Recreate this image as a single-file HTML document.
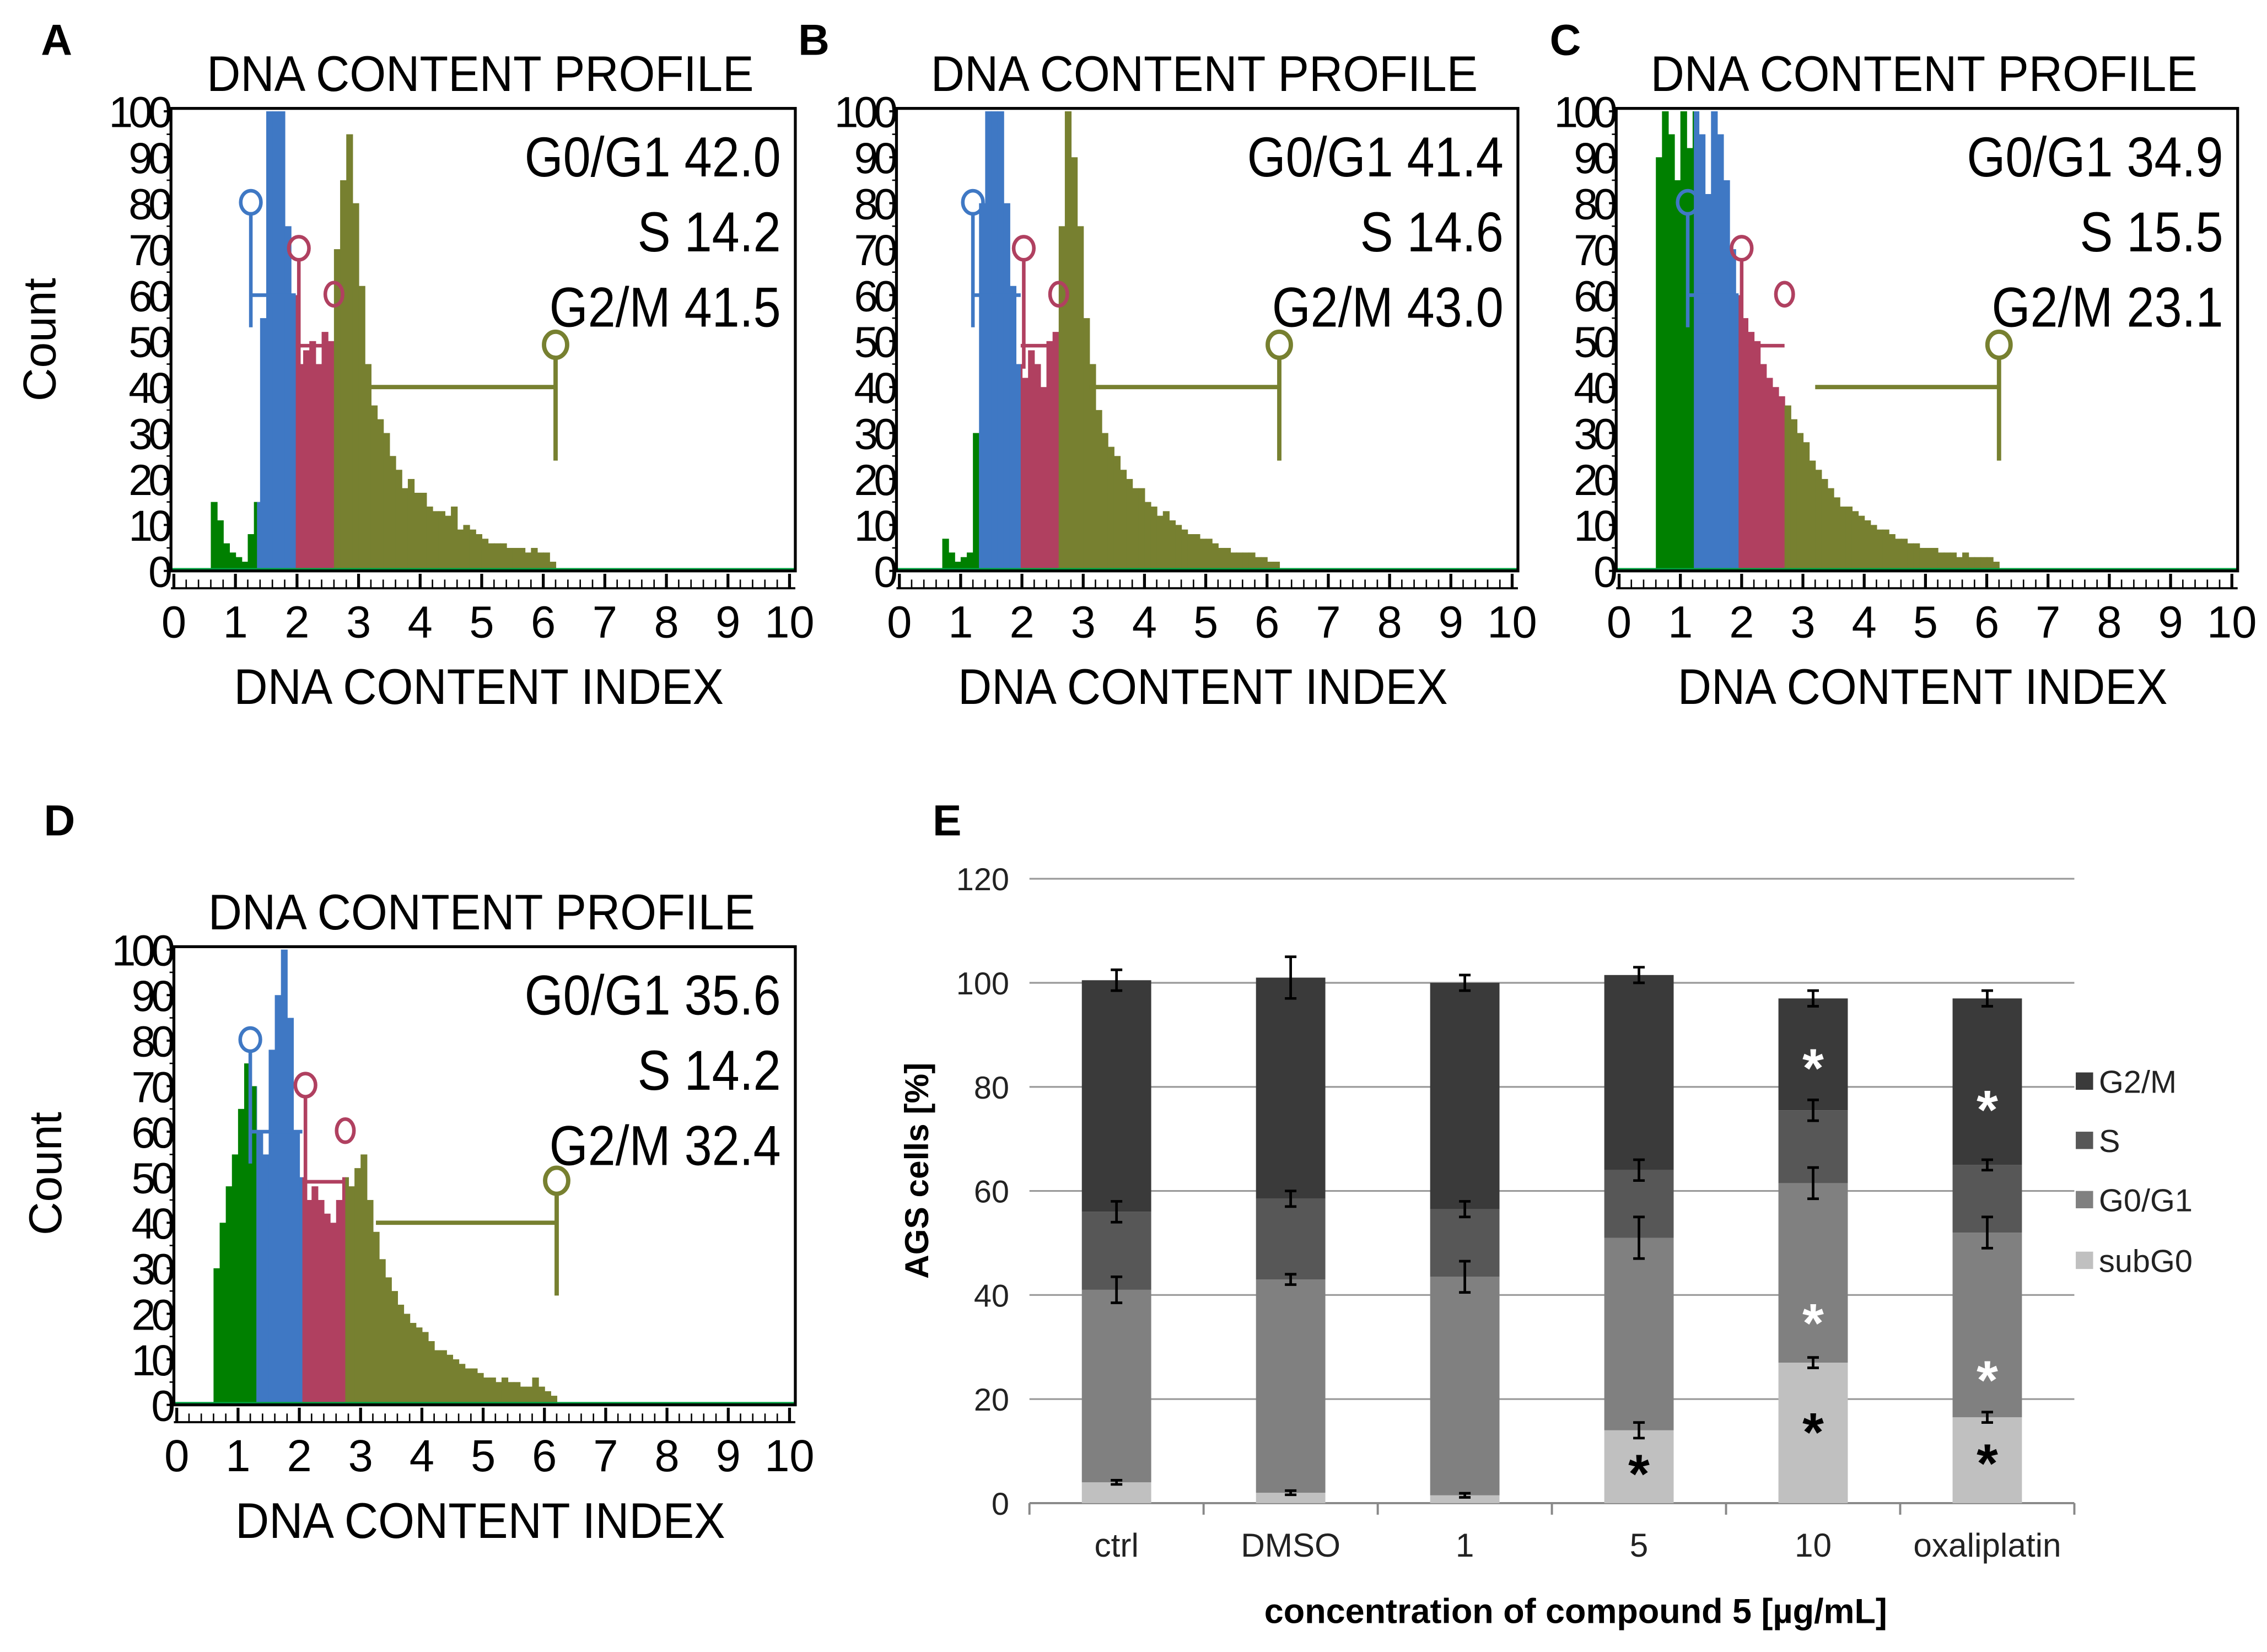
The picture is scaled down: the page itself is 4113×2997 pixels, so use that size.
<!DOCTYPE html>
<html><head><meta charset="utf-8"><style>
html,body{margin:0;padding:0;background:#fff;}
svg{display:block;font-family:"Liberation Sans",sans-serif;}
</style></head><body>
<svg id="root" width="4113" height="2997" viewBox="0 0 1568 1143" xmlns="http://www.w3.org/2000/svg"></svg>
<script>
// ---- histogram data (counts per 0.1 DNA index bin starting at 0.5) ----
const histA = [0,15,11,6,4,3,2,8,15,55,100,100,100,75,60,45,48,50,45,52,50,70,85,95,80,62,45,36,33,30,25,22,18,20,17,17,14,13,13,12,14,9,10,9,8,7,6,6,6,5,5,5,4,5,4,4,2,0];
const histB = [0,0,7,4,2,3,4,30,80,100,100,100,80,62,45,42,48,45,40,50,52,75,100,90,75,55,45,35,30,27,25,22,20,18,18,15,14,12,13,11,10,9,8,8,7,7,6,5,5,4,4,4,4,3,3,2,2,0];
const histC = [0,90,100,95,85,100,92,100,95,82,100,95,85,70,60,55,52,50,45,42,40,38,36,33,30,28,24,22,20,18,16,14,14,13,12,11,10,9,9,8,7,7,6,6,5,5,5,4,4,4,3,4,3,3,3,3,2,0];
const histD = [0,30,40,48,55,65,75,70,60,55,78,90,100,85,60,50,45,48,45,42,40,45,50,48,52,55,45,38,32,28,25,22,20,18,17,16,14,12,12,11,10,9,8,8,7,6,6,5,6,5,5,4,4,6,4,3,2,0];
// gates: [blueStart, redStart, oliveStart]
const gatesA = [1.35,1.98,2.6];
const gatesB = [1.3,1.98,2.6];
const gatesC = [1.22,1.95,2.7];
const gatesD = [1.3,2.05,2.75];
const statsA = ["G0/G1 42.0","S 14.2","G2/M 41.5"];
const statsB = ["G0/G1 41.4","S 14.6","G2/M 43.0"];
const statsC = ["G0/G1 34.9","S 15.5","G2/M 23.1"];
const statsD = ["G0/G1 35.6","S 14.2","G2/M 32.4"];
// ---- bar chart data ----
const categories = ["ctrl","DMSO","1","5","10","oxaliplatin"];
const subG0 = [4,2,1.5,14,27,16.5];
const g0g1Top = [41,43,43.5,51,61.5,52];
const sTop = [56,58.5,56.5,64,75.5,65];
const g2mTop = [100.5,101,100,101.5,97,97];
const errSub = [0,0,0,1.5,1,1];
const errG1 = [2.5,1,3,4,3,3];
const errS = [2,1.5,1.5,2,2,1];
const errG2 = [2,4,1.5,1.5,1.5,1.5];
const yTicks = [0,20,40,60,80,100,120];

const NS="http://www.w3.org/2000/svg";
const root=document.getElementById('root');
function el(tag,attrs,parent){const e=document.createElementNS(NS,tag);for(const k in attrs)e.setAttribute(k,attrs[k]);(parent||root).appendChild(e);return e;}
function txt(s,attrs,parent){const e=el('text',attrs,parent);e.textContent=s;return e;}

const COLORS={g:'#008000',b:'#3f78c4',r:'#b04060',o:'#778030'};
function histPanel(name,letter,L,T,R,B,hist,gates,stats,lx,ly){
  const g=el('g',{});
  
  
  const x0=L+2, x10=R-4;
  const sx=v=>x0+(x10-x0)*v/10;
  const sy=v=>B-(B-T-2)*Math.min(v,100)/100;
  const lt=txt(letter,{x:lx,y:ly,'font-size':30,'font-weight':'bold'},g);
  
  
  const tt=txt('DNA CONTENT PROFILE',{x:0,y:0,'font-size':33,'text-anchor':'middle',transform:`translate(${(L+R)/2-2},${T-12}) scale(0.98,1.05)`},g);
  
  
  for(let i=0;i<hist.length;i++){
    const xs=0.5+i*0.1;
    let pts=[xs];gates.forEach(gv=>{if(gv>xs&&gv<xs+0.1)pts.push(gv);});pts.push(xs+0.1);
    for(let j=0;j<pts.length-1;j++){
      const a=pts[j],b=pts[j+1],mid=(a+b)/2;
      const c=mid<gates[0]?COLORS.g:mid<gates[1]?COLORS.b:mid<gates[2]?COLORS.r:COLORS.o;
      const r=el('rect',{x:sx(a),y:sy(hist[i]),width:sx(b)-sx(a)+0.4,height:B-sy(hist[i]),fill:c},g);
      
      
    }
  }
  el('line',{x1:L,y1:B-1,x2:R,y2:B-1,stroke:'#00a040','stroke-width':2},g);
  const gm=el('g',{fill:'none','stroke-width':2.5},g);
  
  
  const bx=gates[0]-0.1, by=sy(78);
  el('ellipse',{cx:sx(bx),cy:by-7,rx:7,ry:8,stroke:COLORS.b},gm);
  el('line',{x1:sx(bx),y1:by+1,x2:sx(bx),y2:sy(53),stroke:COLORS.b},gm);
  el('line',{x1:sx(bx),y1:sy(60),x2:sx(gates[1]),y2:sy(60),stroke:COLORS.b},gm);
  el('ellipse',{cx:sx(gates[1]+0.05),cy:sy(68)-7,rx:7,ry:8,stroke:COLORS.r},gm);
  el('line',{x1:sx(gates[1]+0.05),y1:sy(68)+1,x2:sx(gates[1]+0.05),y2:sy(44),stroke:COLORS.r},gm);
  el('line',{x1:sx(gates[1]),y1:sy(49),x2:sx(gates[2]),y2:sy(49),stroke:COLORS.r},gm);
  el('ellipse',{cx:sx(gates[2]),cy:sy(58)-7,rx:6,ry:8,stroke:COLORS.r},gm);
  el('ellipse',{cx:sx(6.2),cy:sy(47)-7,rx:8,ry:9,stroke:COLORS.o,'stroke-width':3},gm);
  el('line',{x1:sx(6.2),y1:sy(47)+2,x2:sx(6.2),y2:sy(24),stroke:COLORS.o,'stroke-width':3},gm);
  el('line',{x1:sx(gates[2]+0.5),y1:sy(40),x2:sx(6.2),y2:sy(40),stroke:COLORS.o,'stroke-width':3},gm);
  el('rect',{x:L,y:T,width:R-L,height:B-T,fill:'none',stroke:'#000','stroke-width':2},g);
  for(let v=0;v<=100;v+=10){
    el('line',{x1:L-5,y1:sy(v),x2:L,y2:sy(v),stroke:'#000','stroke-width':1.5},g);
    if(v<100)el('line',{x1:L-3,y1:sy(v+5),x2:L,y2:sy(v+5),stroke:'#000','stroke-width':1},g);
    const t=txt(String(v),{x:L-2,y:sy(v)+11,'font-size':30,'text-anchor':'end','letter-spacing':'-3'},g);
    
    
  }
  el('line',{x1:L,y1:B+12,x2:R,y2:B+12,stroke:'#000','stroke-width':1.5},g);
  for(let k=0;k<=50;k++){
    const v=k*0.2;const maj=k%5===0;
    el('line',{x1:sx(v),y1:B+(maj?2:6),x2:sx(v),y2:B+12,stroke:'#000','stroke-width':maj?2:1},g);
  }
  for(let v=0;v<=10;v++){
    const t=txt(String(v),{x:sx(v),y:B+46,'font-size':31,'text-anchor':'middle'},g);
    
    
  }
  const xt=txt('DNA CONTENT INDEX',{x:0,y:0,'font-size':33,'text-anchor':'middle',transform:`translate(${(L+R)/2-3},${B+92}) scale(0.98,1.05)`},g);
  
  
  stats.forEach((s,i)=>{
    const t=txt(s,{x:0,y:0,'font-size':39,'text-anchor':'end',transform:`translate(${R-10},${T+47+i*52}) scale(0.88,1)`},g);
    
    
  });
}
histPanel('a','A',118,75,550,395,histA,gatesA,statsA,28,38);
histPanel('b','B',620,75,1050,395,histB,gatesB,statsB,552,38);
histPanel('c','C',1118,75,1548,395,histC,gatesC,statsC,1072,38);
histPanel('d','D',120,655,550,972,histD,gatesD,statsD,30,578);
const c1=txt('Count',{x:0,y:0,'font-size':32,'text-anchor':'middle',transform:'translate(38,235) rotate(-90)'});


const c2=txt('Count',{x:0,y:0,'font-size':32,'text-anchor':'middle',transform:'translate(42,812) rotate(-90)'});



(function(){
  const g=el('g',{});
  
  
  const L=712,R=1435,T=608,B=1040;
  const sy=v=>B-(B-T)*v/120;
  const bw=(R-L)/categories.length;
  const cx=i=>L+bw*(i+0.5);
  const le=txt('E',{x:645,y:578,'font-size':30,'font-weight':'bold'},g);
  
  
  yTicks.forEach(v=>{
    if(v>0)el('line',{x1:L,y1:sy(v),x2:R,y2:sy(v),stroke:'#999','stroke-width':1.2},g);
    const t=txt(String(v),{x:L-14,y:sy(v)+8,'font-size':22,'text-anchor':'end',fill:'#222'},g);
    
    
  });
  el('line',{x1:L,y1:B,x2:R,y2:B,stroke:'#888','stroke-width':1.5},g);
  for(let i=0;i<=categories.length;i++)el('line',{x1:L+bw*i,y1:B,x2:L+bw*i,y2:B+8,stroke:'#888','stroke-width':1.5},g);
  const cols=['#c0c0c0','#808080','#575757','#3a3a3a'];
  categories.forEach((c,i)=>{
    const segs=[[0,subG0[i],errSub[i]],[subG0[i],g0g1Top[i],errG1[i]],[g0g1Top[i],sTop[i],errS[i]],[sTop[i],g2mTop[i],errG2[i]]];
    const names=['subg0','g0g1','s','g2m'];
    segs.forEach((s,k)=>{
      const r=el('rect',{x:cx(i)-24,y:sy(s[1]),width:48,height:sy(s[0])-sy(s[1]),fill:cols[k]},g);
      
      
    });
    segs.forEach(s=>{
      const e=Math.max(s[2],0.4);
      const p=el('path',{d:`M${cx(i)-4},${sy(s[1]+e)}H${cx(i)+4}M${cx(i)},${sy(s[1]+e)}V${sy(s[1]-e)}M${cx(i)-4},${sy(s[1]-e)}H${cx(i)+4}`,stroke:'#000','stroke-width':1.8,fill:'none'},g);
      
      
    });
    const t=txt(c,{x:cx(i),y:1077,'font-size':23,'text-anchor':'middle',fill:'#222'},g);
    
    
  });
  const stars=[[3,7,'#000'],[4,85,'#fff'],[4,36,'#fff'],[4,15,'#000'],[5,77,'#fff'],[5,25,'#fff'],[5,9,'#000']];
  stars.forEach(s=>{
    const t=txt('*',{x:cx(s[0]),y:sy(s[1])+18,'font-size':38,'font-weight':'bold','text-anchor':'middle',fill:s[2]},g);
    
    
  });
  const xa=txt('concentration of compound 5 [µg/mL]',{x:1090,y:1123,'font-size':24,'font-weight':'bold','text-anchor':'middle'},g);
  
  
  const ya=txt('AGS cells [%]',{x:0,y:0,'font-size':23,'font-weight':'bold','text-anchor':'middle',transform:'translate(642,810) rotate(-90)'},g);
  
  
  const leg=[['G2/M','#3a3a3a',748],['S','#575757',789],['G0/G1','#808080',830],['subG0','#c0c0c0',872]];
  leg.forEach(l=>{
    const lg=el('g',{},g);
    
    
    el('rect',{x:1436,y:l[2]-6,width:12,height:12,fill:l[1]},lg);
    txt(l[0],{x:1452,y:l[2]+8,'font-size':22,fill:'#222'},lg);
  });
})();
</script>
</body></html>
